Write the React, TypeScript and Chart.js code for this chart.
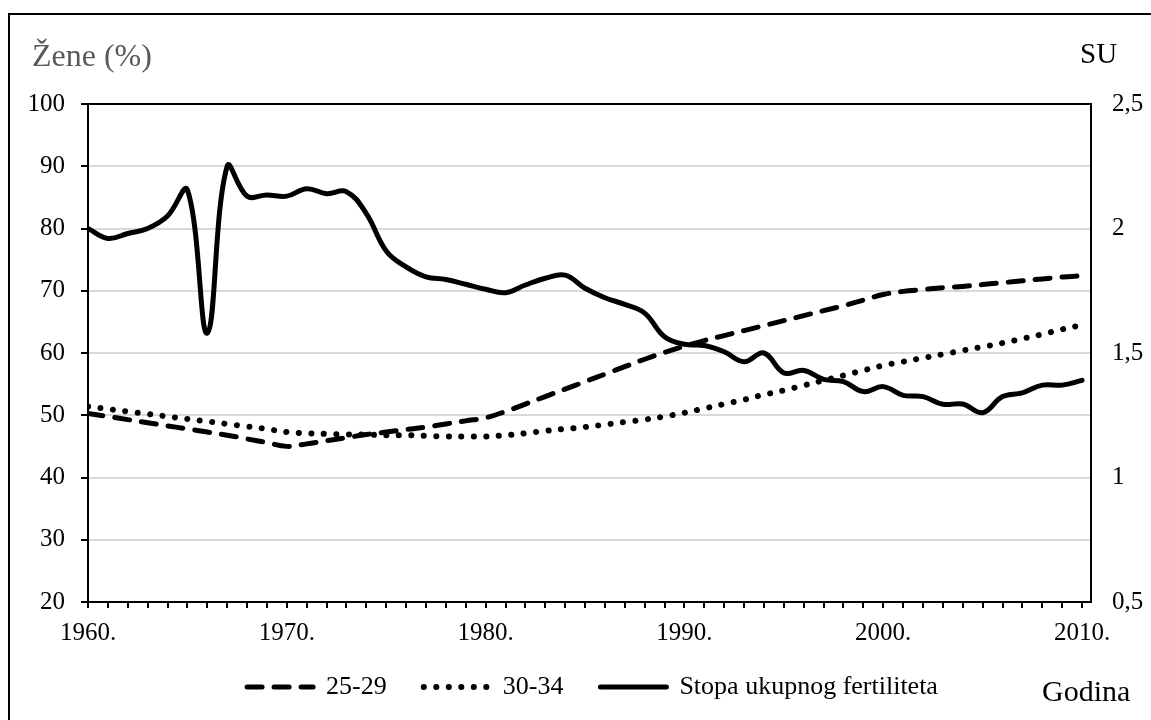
import React, { useEffect, useRef } from 'react';
import { Chart, registerables } from 'chart.js';

Chart.register(...registerables);

const years = [
  1960, 1961, 1962, 1963, 1964, 1965, 1966, 1967, 1968, 1969,
  1970, 1971, 1972, 1973, 1974, 1975, 1976, 1977, 1978, 1979,
  1980, 1981, 1982, 1983, 1984, 1985, 1986, 1987, 1988, 1989,
  1990, 1991, 1992, 1993, 1994, 1995, 1996, 1997, 1998, 1999,
  2000, 2001, 2002, 2003, 2004, 2005, 2006, 2007, 2008, 2009,
  2010,
];

// Share of women (%) aged 25-29 (left axis)
const share2529 = [
  50.3, 49.8, 49.3, 48.8, 48.3, 47.8, 47.3, 46.8, 46.2, 45.6,
  45.0, 45.4, 45.9, 46.4, 46.9, 47.3, 47.7, 48.1, 48.6, 49.1,
  49.6, 50.6, 51.8, 53.0, 54.2, 55.4, 56.6, 57.8, 59.0, 60.1,
  61.1, 62.0, 62.8, 63.6, 64.4, 65.2, 66.0, 66.8, 67.6, 68.5,
  69.4, 69.9, 70.2, 70.5, 70.7, 71.0, 71.3, 71.6, 71.9, 72.2,
  72.4,
];

// Share of women (%) aged 30-34 (left axis)
const share3034 = [
  51.4, 51.0, 50.6, 50.2, 49.8, 49.4, 49.0, 48.6, 48.2, 47.8,
  47.3, 47.1, 47.0, 46.9, 46.9, 46.8, 46.8, 46.7, 46.6, 46.6,
  46.6, 46.8, 47.1, 47.5, 47.8, 48.1, 48.5, 48.9, 49.3, 49.8,
  50.4, 51.1, 51.8, 52.5, 53.3, 54.0, 54.8, 55.6, 56.4, 57.2,
  58.0, 58.6, 59.2, 59.8, 60.4, 61.0, 61.6, 62.3, 63.0, 63.8,
  64.5,
];

// Total fertility rate (right axis, SU)
const tfr = [
  2.0, 1.96, 1.98, 2.0, 2.05, 2.155, 1.58, 2.25, 2.13, 2.135,
  2.13, 2.16, 2.14, 2.148, 2.06, 1.91, 1.846, 1.806, 1.795, 1.776,
  1.756, 1.742, 1.773, 1.8, 1.813, 1.76, 1.722, 1.695, 1.66, 1.565,
  1.535, 1.53, 1.505, 1.465, 1.5, 1.42, 1.43, 1.394, 1.385, 1.345,
  1.365, 1.33, 1.325, 1.294, 1.295, 1.26, 1.325, 1.34, 1.371, 1.371,
  1.39,
];

const seriesLabels = ['25-29', '30-34', 'Stopa ukupnog fertiliteta'];
const leftTitle = 'Žene (%)';
const rightTitle = 'SU';
const xTitle = 'Godina';

const FONT = '"Liberation Serif", "Times New Roman", serif';

const titlePlugin = {
  id: 'cornerTitles',
  afterLayout(chart: any) {
    const lg = chart.legend;
    if (lg) {
      lg.top -= 10;
      lg.bottom -= 10;
      lg.left += 17;
      lg.right += 17;
    }
  },
  afterDraw(chart: any) {
    const { ctx, chartArea } = chart;
    ctx.save();
    ctx.textBaseline = 'alphabetic';
    ctx.textAlign = 'left';
    ctx.font = `32px ${FONT}`;
    ctx.fillStyle = '#595959';
    ctx.fillText(leftTitle, chartArea.left - 56, chartArea.top - 38);
    ctx.fillStyle = '#000';
    ctx.font = `29px ${FONT}`;
    ctx.fillText(rightTitle, chartArea.right - 11, chartArea.top - 41);
    ctx.font = `30px ${FONT}`;
    ctx.fillText(xTitle, chartArea.right - 49, chartArea.bottom + 99);
    ctx.restore();
  },
};

export default function App() {
  const ref = useRef<HTMLCanvasElement | null>(null);

  useEffect(() => {
    if (!ref.current) return;
    const toPts = (vals: number[]) => years.map((x, i) => ({ x, y: vals[i] }));
    const chart = new Chart(ref.current, {
      type: 'line',
      data: {
        datasets: [
          {
            label: seriesLabels[0],
            data: toPts(share2529),
            yAxisID: 'y',
            borderColor: '#000',
            backgroundColor: '#000',
            borderWidth: 5,
            borderDash: [15, 12],
            borderCapStyle: 'round',
            pointRadius: 0,
            tension: 0.4,
            order: 1,
          },
          {
            label: seriesLabels[1],
            data: toPts(share3034),
            yAxisID: 'y',
            borderColor: '#000',
            backgroundColor: '#000',
            borderWidth: 6,
            borderDash: [0.1, 12.4],
            borderCapStyle: 'round',
            pointRadius: 0,
            tension: 0.4,
            order: 2,
          },
          {
            label: seriesLabels[2],
            data: toPts(tfr),
            yAxisID: 'y1',
            borderColor: '#000',
            backgroundColor: '#000',
            borderWidth: 5,
            borderCapStyle: 'round',
            borderJoinStyle: 'round',
            pointRadius: 0,
            tension: 0.4,
            order: 0,
          },
        ],
      },
      options: {
        responsive: false,
        animation: false,
        layout: { padding: { top: 104, left: 0, right: 0, bottom: 0 } },
        plugins: {
          title: { display: false },
          tooltip: { enabled: false },
          legend: {
            display: true,
            position: 'bottom',
            labels: {
              usePointStyle: true,
              pointStyle: 'line',
              pointStyleWidth: 66,
              boxHeight: 26,
              padding: 37,
              color: '#000',
              font: { family: FONT, size: 26 },
              sort: (a: any, b: any) => a.datasetIndex - b.datasetIndex,
              generateLabels: (ch: any) => {
                const base = (Chart.defaults as any).plugins.legend.labels.generateLabels(ch);
                return base.map((it: any) => {
                  const ds = ch.data.datasets[it.datasetIndex];
                  return {
                    ...it,
                    pointStyle: 'line',
                    lineDash: ds.borderDash || [],
                    lineCap: 'round',
                    lineWidth: ds.borderWidth,
                    strokeStyle: '#000',
                    fillStyle: '#000',
                  };
                });
              },
            },
          },
        },
        scales: {
          x: {
            type: 'linear',
            min: 1960,
            max: 2010.45,
            afterFit: (s: any) => { s.height = 45; },
            border: { display: true, color: '#000', width: 2 },
            grid: {
              drawOnChartArea: false,
              drawTicks: true,
              tickLength: 6,
              tickColor: '#000',
              lineWidth: 2,
            },
            ticks: {
              stepSize: 1,
              autoSkip: false,
              maxRotation: 0,
              minRotation: 0,
              includeBounds: false,
              padding: 10,
              color: '#000',
              font: { family: FONT, size: 25 },
              callback: (v: any) => (Number(v) % 10 === 0 ? `${v}.` : ''),
            },
          },
          y: {
            type: 'linear',
            position: 'left',
            min: 20,
            max: 100,
            afterFit: (s: any) => { s.width = 88; },
            border: { display: true, color: '#000', width: 2 },
            grid: {
              color: (c: any) => (c.tick && (c.tick.value === 100 || c.tick.value === 20) ? '#000' : '#d9d9d9'),
              lineWidth: 2,
              tickColor: '#000',
              tickLength: 7,
            },
            ticks: {
              stepSize: 10,
              padding: 16,
              color: '#000',
              font: { family: FONT, size: 25 },
            },
          },
          y1: {
            type: 'linear',
            position: 'right',
            min: 0.5,
            max: 2.5,
            afterFit: (s: any) => { s.width = 60; },
            border: { display: true, color: '#000', width: 2 },
            grid: { display: false, drawTicks: false, drawOnChartArea: false },
            ticks: {
              stepSize: 0.5,
              padding: 21,
              color: '#000',
              font: { family: FONT, size: 25 },
              callback: (v: any) => String(v).replace('.', ','),
            },
          },
        },
      },
      plugins: [titlePlugin],
    });
    return () => chart.destroy();
  }, []);

  return (
    <div>
      <div
        style={{
          position: 'fixed',
          left: 8,
          top: 13,
          width: 1143,
          height: 707,
          boxSizing: 'border-box',
          borderTop: '2px solid #000',
          borderLeft: '2px solid #000',
        }}
      />
      <canvas
        ref={ref}
        width={1151}
        height={720}
        style={{ position: 'fixed', left: 0, top: 0, width: 1151, height: 720 }}
      />
    </div>
  );
}
